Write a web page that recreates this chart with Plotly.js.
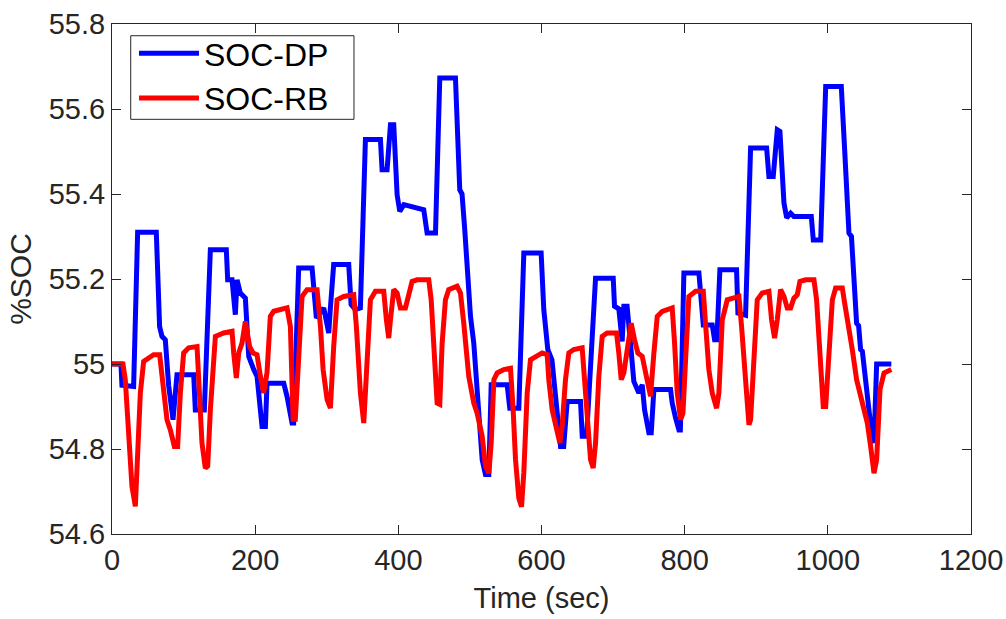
<!DOCTYPE html>
<html>
<head>
<meta charset="utf-8">
<script src="https://cdn.plot.ly/plotly-3.0.1.min.js"></script>
<style>html,body{margin:0;padding:0;background:#fff;}#chart{width:1006px;height:619px;}</style>
</head>
<body>
<div id="chart"></div>
<script>
// SOC-DP series (time in sec, %SOC)
const tDP = [0, 12.5, 13.9, 30.2, 35.8, 61.9, 66.5, 69.8, 74.5, 79.1, 85.2, 90.8, 114.1, 116.4, 129, 137.4, 159.7, 161.6, 167.7, 172.3, 174.7, 179.3, 186.3, 191, 198, 202.6, 209.6, 214.3, 216.6, 239.9, 244.5, 251.5, 253.8, 260.8, 279.5, 281.8, 285.5, 295.8, 302.8, 305.1, 309.7, 330.7, 334, 340, 347, 354, 375, 377.3, 384.3, 389, 393.6, 398.3, 402, 407.7, 435.5, 440.2, 451.9, 457.9, 479.8, 485.8, 489, 492.8, 500.8, 505.4, 517.1, 521.7, 526.4, 529.7, 552, 555.7, 568.3, 575.3, 599.5, 603.2, 608.8, 614.6, 621.6, 626.6, 631, 635.9, 654.5, 656.9, 663, 675.5, 700.2, 702, 708, 712.7, 715, 719.6, 724.3, 729, 736, 740.7, 744, 750, 753.3, 757, 780.3, 782.6, 787.3, 792, 794, 798.9, 819.9, 823.2, 826, 838.5, 841.8, 845, 849.2, 872.5, 874.4, 885.1, 892.1, 914.5, 917.7, 923.7, 929.4, 933.1, 938.7, 942.5, 948, 952.6, 976.9, 979.7, 990, 997, 1018.8, 1023.5, 1026.3, 1029.5, 1033, 1036.5, 1040.2, 1043, 1045.8, 1048.2, 1062.1, 1064.5, 1068.2, 1088.7];
const socDP = [55.0, 55.0, 54.95, 54.947, 55.31, 55.31, 55.088, 55.065, 55.057, 54.95, 54.869, 54.975, 54.975, 54.892, 54.892, 55.269, 55.269, 55.198, 55.198, 55.116, 55.198, 55.167, 55.155, 55.018, 54.987, 54.971, 54.853, 54.853, 54.955, 54.955, 54.924, 54.861, 54.861, 55.226, 55.226, 55.183, 55.108, 55.132, 55.073, 55.132, 55.234, 55.234, 55.14, 55.128, 55.132, 55.528, 55.528, 55.457, 55.457, 55.563, 55.563, 55.398, 55.359, 55.375, 55.363, 55.308, 55.308, 55.673, 55.673, 55.41, 55.40, 55.316, 55.112, 55.049, 54.775, 54.74, 54.74, 54.951, 54.951, 54.896, 54.896, 55.261, 55.261, 55.128, 55.034, 55.01, 54.896, 54.806, 54.806, 54.912, 54.912, 54.83, 54.83, 55.202, 55.202, 55.136, 55.13, 55.053, 55.136, 55.136, 55.049, 54.959, 54.932, 54.951, 54.892, 54.838, 54.838, 54.94, 54.94, 54.908, 54.873, 54.845, 54.845, 55.214, 55.214, 55.151, 55.092, 55.092, 55.057, 55.057, 55.222, 55.222, 55.12, 55.115, 55.508, 55.508, 55.441, 55.441, 55.551, 55.547, 55.379, 55.344, 55.355, 55.347, 55.347, 55.292, 55.292, 55.653, 55.653, 55.504, 55.394, 55.308, 55.3, 55.206, 55.096, 55.09, 55.034, 55.03, 54.822, 54.815, 55.0, 55.0];

// SOC-RB series
const tRB = [0, 15.3, 18.6, 23.2, 27.9, 32.6, 35.8, 39.6, 44.2, 51.2, 58.2, 66.6, 72.2, 76.8, 81.5, 87.1, 91.7, 95.5, 100.1, 107.1, 118.8, 122.5, 125.7, 130.4, 133.7, 137.4, 142.1, 144.4, 156, 167.7, 170, 173.7, 177, 181.6, 186.3, 192.3, 197, 202.6, 207.3, 211.9, 216.6, 221.2, 225.9, 235.2, 244.5, 249.2, 253, 256.1, 260.8, 265.5, 272.5, 286.5, 291.2, 294.9, 300.5, 305.1, 309.7, 314.4, 323.7, 337.7, 341.4, 347, 351.7, 356.3, 361, 368, 379.6, 383.3, 386.6, 389, 393.6, 398.3, 402.9, 409.9, 414.5, 419.2, 426.2, 442.5, 445.9, 450.5, 454.2, 457.9, 461.2, 465.8, 470.4, 482.1, 486.8, 491.4, 498.4, 505.4, 510.1, 517.1, 521.7, 526.4, 529.7, 533.5, 538.1, 547.3, 556.7, 560.4, 563.7, 568.3, 572.1, 575.3, 580, 584.6, 591.6, 600.9, 607.9, 610.2, 614.9, 619.5, 625.6, 628.8, 633.5, 638.2, 645.1, 656.8, 660.1, 663.8, 668.5, 672.2, 675.5, 680.1, 684.8, 691.8, 704.8, 708, 711.4, 715, 719.6, 725.3, 730, 734.6, 740.7, 747.7, 752.3, 757, 761.7, 768.7, 782.6, 785.9, 789.6, 794.3, 797.6, 801.3, 805.9, 815.2, 826, 829.1, 833.8, 838.5, 844.6, 847.8, 852.5, 859.5, 875.8, 879.5, 885.1, 889.8, 892.1, 896.7, 901.4, 908.4, 917.7, 921.4, 925.6, 929.4, 934, 938.7, 943.3, 948, 952.6, 957.3, 961, 969, 980.6, 984.3, 989, 993.6, 997, 1001.6, 1006.3, 1010.9, 1020.2, 1023.5, 1029.5, 1034.2, 1040.2, 1048.2, 1055.2, 1059.8, 1064.5, 1068.2, 1072.9, 1078.5, 1088.7];
const socRB = [55.0, 55.0, 54.963, 54.814, 54.712, 54.665, 54.775, 54.932, 55.006, 55.014, 55.022, 55.022, 54.947, 54.869, 54.845, 54.806, 54.806, 54.932, 55.026, 55.038, 55.041, 54.932, 54.814, 54.755, 54.76, 54.892, 55.026, 55.065, 55.073, 55.077, 55.026, 54.967, 55.026, 55.049, 55.1, 55.041, 55.026, 55.022, 54.971, 54.932, 54.98, 55.112, 55.124, 55.128, 55.132, 55.088, 54.87, 54.87, 55.01, 55.159, 55.175, 55.175, 55.088, 54.987, 54.916, 54.896, 55.041, 55.151, 55.159, 55.163, 55.088, 54.932, 54.861, 55.01, 55.151, 55.171, 55.171, 55.104, 55.061, 55.104, 55.175, 55.167, 55.132, 55.132, 55.159, 55.194, 55.198, 55.198, 55.151, 55.01, 54.908, 54.905, 55.049, 55.151, 55.175, 55.183, 55.167, 55.096, 54.971, 54.908, 54.884, 54.83, 54.761, 54.743, 54.814, 54.963, 54.979, 54.987, 54.99, 54.892, 54.775, 54.684, 54.664, 54.745, 54.932, 55.01, 55.018, 55.026, 55.022, 54.963, 54.892, 54.853, 54.814, 54.853, 54.963, 55.026, 55.034, 55.038, 54.971, 54.869, 54.775, 54.755, 54.814, 54.971, 55.065, 55.073, 55.073, 55.026, 54.963, 54.979, 55.041, 55.096, 55.057, 55.026, 55.018, 54.963, 54.924, 55.026, 55.112, 55.124, 55.132, 55.049, 54.932, 54.869, 54.884, 55.01, 55.159, 55.171, 55.171, 55.096, 54.987, 54.932, 54.896, 54.932, 55.104, 55.151, 55.159, 55.088, 54.963, 54.857, 54.869, 55.026, 55.151, 55.167, 55.171, 55.104, 55.061, 55.104, 55.175, 55.159, 55.132, 55.132, 55.155, 55.163, 55.194, 55.198, 55.198, 55.151, 55.01, 54.9, 54.9, 55.049, 55.151, 55.179, 55.179, 55.143, 55.088, 55.034, 54.963, 54.908, 54.861, 54.806, 54.743, 54.775, 54.94, 54.979, 54.987];

// axis ticks
const xTicks = [0, 200, 400, 600, 800, 1000, 1200];
const yTicks = [54.6, 54.8, 55, 55.2, 55.4, 55.6, 55.8];
const yTickText = ['54.6', '54.8', '55', '55.2', '55.4', '55.6', '55.8'];

const FONT = '"Liberation Sans", Arial, Helvetica, sans-serif';
const AX = '#262626';

const traces = [
  {x: tDP, y: socDP, name: 'SOC-DP', type: 'scatter', mode: 'lines',
   line: {color: '#0000ff', width: 5, shape: 'linear'}},
  {x: tRB, y: socRB, name: 'SOC-RB', type: 'scatter', mode: 'lines',
   line: {color: '#ff0000', width: 5, shape: 'linear'}}
];

const axisCommon = {
  showgrid: false, zeroline: false, showline: true, linecolor: AX, linewidth: 1,
  ticks: 'inside', ticklen: 9, tickwidth: 1, tickcolor: AX, mirror: 'allticks',
  tickfont: {family: FONT, size: 29, color: AX}
};

const layout = {
  width: 1006, height: 619,
  margin: {l: 112, r: 35, t: 24, b: 85, pad: 0},
  paper_bgcolor: '#ffffff', plot_bgcolor: '#ffffff',
  font: {family: FONT, color: AX},
  showlegend: true,
  legend: {
    x: 0.0256, y: 0.996, xanchor: 'left', yanchor: 'top',
    bgcolor: 'rgba(0,0,0,0)', borderwidth: 0,
    font: {family: FONT, size: 32, color: '#000000'},
    itemwidth: 60, tracegroupgap: 0
  },
  shapes: [{
    type: 'rect', xref: 'paper', yref: 'paper', layer: 'above',
    x0: 0.0218, x1: 0.2817, y0: 0.8131, y1: 0.977,
    line: {color: AX, width: 1}, fillcolor: '#ffffff'
  }],
  xaxis: Object.assign({}, axisCommon, {
    range: [0, 1200], tickmode: 'array', tickvals: xTicks,
    title: {text: 'Time (sec)', font: {family: FONT, size: 29, color: AX}, standoff: 12}
  }),
  yaxis: Object.assign({}, axisCommon, {
    range: [54.6, 55.8], tickmode: 'array', tickvals: yTicks, ticktext: yTickText,
    title: {text: '%SOC', font: {family: FONT, size: 30, color: AX}, standoff: 8}
  })
};

Plotly.newPlot('chart', traces, layout, {staticPlot: true, displayModeBar: false});
</script>
</body>
</html>
